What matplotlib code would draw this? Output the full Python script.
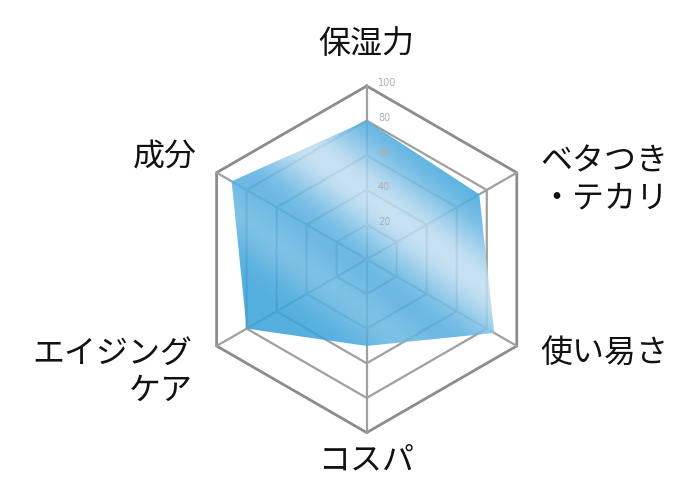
import numpy as np
import matplotlib
matplotlib.use("Agg")
import matplotlib.pyplot as plt
from matplotlib.patches import Polygon

plt.rcParams['font.family'] = ['Noto Sans CJK JP', 'DejaVu Sans']

# データ
categories = ['保湿力', 'ベタつき\n・テカリ', '使い易さ', 'コスパ', 'エイジング\nケア', '成分']
values = [80, 75, 85, 50, 80, 90]
rings = [20, 40, 60, 80, 100]
ring_labels = ['20', '40', '60', '80', '100']

# ラベル位置 (データ単位, 半径100基準) と揃え
label_pos = [(0, 124), (100, 46), (100, -54), (0, -116), (-100.5, -65), (-98, 58.5)]
label_ha = ['center', 'left', 'left', 'center', 'right', 'right']

n = len(categories)
angles = np.radians(90 - 360 / n * np.arange(n))

fig = plt.figure(figsize=(7, 5), dpi=100)
ax = fig.add_axes([0, 0, 1, 1])
scale = 1.733  # px / 単位
cx, cy = 366.7, 259.3
ax.set_xlim(-cx / scale, (700 - cx) / scale)
ax.set_ylim(-(500 - cy) / scale, cy / scale)
ax.set_aspect('equal')
ax.axis('off')

# グリッド (六角形)
for r in rings:
    xs = list(r * np.cos(angles)) + [r * np.cos(angles[0])]
    ys = list(r * np.sin(angles)) + [r * np.sin(angles[0])]
    if r == 100:
        ax.plot(xs, ys, color='#8c8c8c', lw=2.0, zorder=1)
    else:
        ax.plot(xs, ys, color='#a0a0a0', lw=1.6, zorder=1)
for a in angles:
    ax.plot([0, 100 * np.cos(a)], [0, 100 * np.sin(a)], color='#a0a0a0', lw=1.6, zorder=1)

# 目盛りラベル
for r, t in zip(rings, ring_labels):
    ax.text(6.5, r + 1.5, t, fontsize=7, color='#b0b0b0', ha='left', va='center',
            family=['DejaVu Sans'], zorder=4)

# データ多角形 (グラデーション塗り)
vx = np.array(values) * np.cos(angles)
vy = np.array(values) * np.sin(angles)
poly = Polygon(np.column_stack([vx, vy]), closed=True, facecolor='none', edgecolor='none')
ax.add_patch(poly)

gx, gy = np.meshgrid(np.linspace(-110, 110, 440), np.linspace(-110, 110, 440))
d = (gx + 33.9) * 0.615 + (gy - 64.2) * 0.789
t = 0.85 * np.exp(-(d / 25) ** 2) + 0.3 * np.exp(-((d + 55) / 16) ** 2)
t = np.clip(t, 0, 1)
dark = np.array([58, 163, 219]) / 255
light = np.array([216, 232, 246]) / 255
img = np.zeros(gx.shape + (4,))
for k in range(3):
    img[..., k] = dark[k] * (1 - t) + light[k] * t
img[..., 3] = 0.87
im = ax.imshow(img, extent=(-110, 110, -110, 110), origin='lower', zorder=2, interpolation='bilinear')
im.set_clip_path(poly)

# カテゴリラベル
for lab, (lx, ly), ha in zip(categories, label_pos, label_ha):
    ax.text(lx, ly, lab, fontsize=23, ha=ha, va='center', multialignment=ha,
            linespacing=1.2, color='#111111', zorder=5)

fig.savefig('out.png', dpi=100)
